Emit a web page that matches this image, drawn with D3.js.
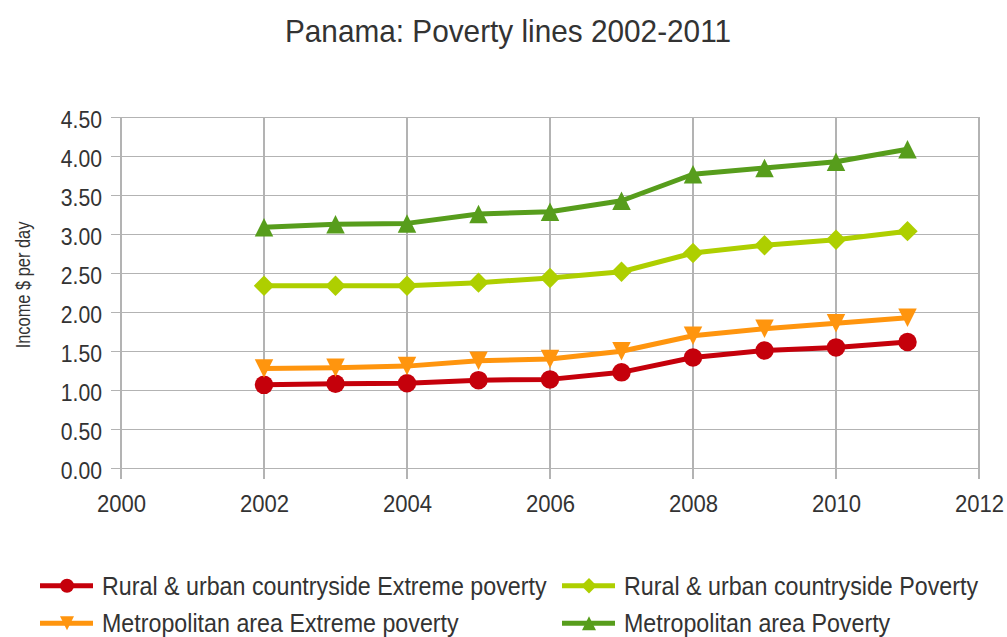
<!DOCTYPE html>
<html><head><meta charset="utf-8">
<script src="https://cdn.jsdelivr.net/npm/d3@7"></script>
<style>body{margin:0;background:#fff}text{font-family:"Liberation Sans",Arial,sans-serif}</style>
</head><body><svg id="c" width="1007" height="637"></svg>
<script>
const years = [2002,2003,2004,2005,2006,2007,2008,2009,2010,2011];
const ruralExtreme = [1.07,1.085,1.09,1.13,1.14,1.23,1.42,1.51,1.55,1.62];
const ruralPoverty = [2.34,2.34,2.34,2.38,2.44,2.52,2.76,2.86,2.93,3.04];
const metroExtreme = [1.28,1.29,1.31,1.38,1.40,1.50,1.70,1.79,1.86,1.93];
const metroPoverty = [3.09,3.13,3.14,3.26,3.29,3.43,3.77,3.85,3.93,4.09];
const seriesNames = ["Rural & urban countryside Extreme poverty","Rural & urban countryside Poverty","Metropolitan area Extreme poverty","Metropolitan area Poverty"];
const xTicks = [2000,2002,2004,2006,2008,2010,2012];
const yTicks = [0,0.5,1,1.5,2,2.5,3,3.5,4,4.5];

const series = [
  {name:seriesNames[0], values:ruralExtreme, color:"#c5000b", sym:"circle"},
  {name:seriesNames[1], values:ruralPoverty, color:"#aecf00", sym:"diamond"},
  {name:seriesNames[2], values:metroExtreme, color:"#ff950e", sym:"down"},
  {name:seriesNames[3], values:metroPoverty, color:"#579d1c", sym:"up"}
];

const svg = d3.select("#c");
const x = d3.scaleLinear().domain([2000,2012]).range([121,979]);
const y = d3.scaleLinear().domain([0,4.5]).range([468.3,117.3]);
const TXT = "#333333";

function squeeze(sel,k){
  sel.each(function(){
    const L=this.getComputedTextLength();
    d3.select(this).attr("textLength",L*k).attr("lengthAdjust","spacingAndGlyphs");
  });
}

svg.append("text").attr("x",508).attr("y",42).attr("text-anchor","middle")
  .attr("font-size",32).attr("fill",TXT).text("Panama: Poverty lines 2002-2011").call(squeeze,0.93);

const grid = svg.append("g");
grid.selectAll(".hy").data(yTicks).join("line")
  .attr("x1",111).attr("x2",979).attr("y1",d=>y(d)).attr("y2",d=>y(d))
  .attr("stroke","#b3b3b3").attr("stroke-width",1.3).attr("shape-rendering","crispEdges");
grid.selectAll(".vx").data(xTicks).join("line")
  .attr("x1",d=>x(d)).attr("x2",d=>x(d)).attr("y1",117.3).attr("y2",479)
  .attr("stroke","#b3b3b3").attr("stroke-width",1.3).attr("shape-rendering","crispEdges");

const yAxis = d3.axisLeft(y).tickValues(yTicks).tickFormat(d3.format(".2f")).tickSize(0).tickPadding(19);
const ya = svg.append("g").attr("transform","translate(121,0)").call(yAxis);
ya.select(".domain").remove();
ya.selectAll("text").attr("font-size",23.5).attr("fill",TXT).attr("font-family","Liberation Sans, Arial, sans-serif")
  .attr("dy",null).attr("y",10).call(squeeze,0.9);

const xAxis = d3.axisBottom(x).tickValues(xTicks).tickFormat(d3.format("d")).tickSize(0).tickPadding(0);
const xa = svg.append("g").attr("transform","translate(0,468.3)").call(xAxis);
xa.select(".domain").remove();
xa.selectAll("text").attr("font-size",24).attr("fill",TXT).attr("font-family","Liberation Sans, Arial, sans-serif")
  .attr("dy",null).attr("y",43.4).call(squeeze,0.92);

svg.append("text").attr("transform","translate(30,285) rotate(-90)").attr("text-anchor","middle")
  .attr("font-size",20.5).attr("fill",TXT).text("Income $ per day").call(squeeze,0.8);

function symPath(sym, s){
  if(sym==="circle") return d3.symbol(d3.symbolCircle, Math.PI*(s/2)*(s/2))();
  if(sym==="diamond"){const h=s*0.55;return `M0,${-h}L${h},0L0,${h}L${-h},0Z`;}
  if(sym==="up"){const h=s*0.5;return `M0,${-h}L${h},${h}L${-h},${h}Z`;}
  if(sym==="down"){const h=s*0.5;return `M0,${h}L${h},${-h}L${-h},${-h}Z`;}
}

const line = d3.line().x((d,i)=>x(years[i])).y(d=>y(d));
series.forEach(s=>{
  svg.append("path").attr("d",line(s.values)).attr("fill","none")
    .attr("stroke",s.color).attr("stroke-width",5).attr("stroke-linejoin","round");
  svg.selectAll(null).data(s.values).join("path")
    .attr("transform",(d,i)=>`translate(${x(years[i])},${y(d)})`)
    .attr("d",symPath(s.sym,18.5)).attr("fill",s.color);
});

const legPos = [[40,585.7],[562,585.7],[40,623.3],[562,623.3]];
series.forEach((s,i)=>{
  const [lx,ly]=legPos[i];
  svg.append("line").attr("x1",lx).attr("x2",lx+53).attr("y1",ly).attr("y2",ly)
    .attr("stroke",s.color).attr("stroke-width",5);
  svg.append("path").attr("transform",`translate(${lx+27},${ly})`).attr("d",symPath(s.sym,14)).attr("fill",s.color);
  svg.append("text").attr("x",lx+62).attr("y",ly+9).attr("font-size",25).attr("fill",TXT).text(s.name).call(squeeze,0.93);
});
</script></body></html>
